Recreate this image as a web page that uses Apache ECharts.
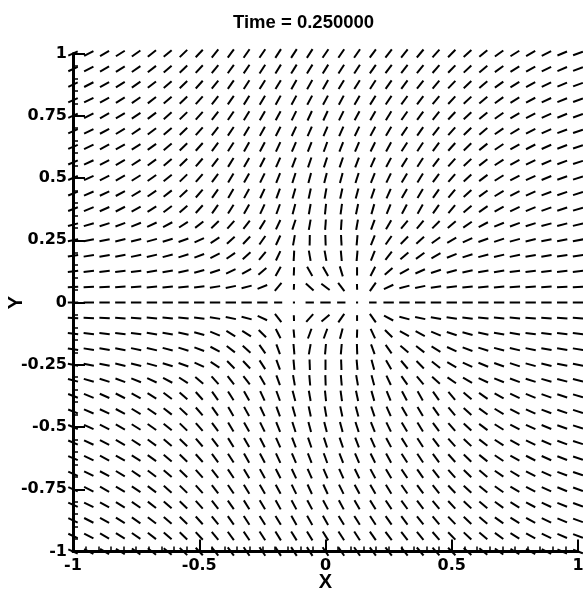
<!DOCTYPE html>
<html>
<head>
<meta charset="utf-8">
<script src="https://cdn.jsdelivr.net/npm/echarts@6/dist/echarts.min.js"></script>
<style>html,body{margin:0;padding:0;background:#fff;}#c{width:583px;height:599px;}</style>
</head>
<body>
<div id="c"></div>
<script>
// grid coordinates
const xValues = [-1,-0.9375,-0.875,-0.8125,-0.75,-0.6875,-0.625,-0.5625,-0.5,-0.4375,-0.375,-0.3125,-0.25,-0.1875,-0.125,-0.0625,0,0.0625,0.125,0.1875,0.25,0.3125,0.375,0.4375,0.5,0.5625,0.625,0.6875,0.75,0.8125,0.875,0.9375,1];
const yValues = [1,0.9375,0.875,0.8125,0.75,0.6875,0.625,0.5625,0.5,0.4375,0.375,0.3125,0.25,0.1875,0.125,0.0625,0,-0.0625,-0.125,-0.1875,-0.25,-0.3125,-0.375,-0.4375,-0.5,-0.5625,-0.625,-0.6875,-0.75,-0.8125,-0.875,-0.9375,-1];
// direction (degrees, counter-clockwise from +x) of each segment, one row per y value (top to bottom)
const angleRows = [
[25,27,30,32,35,38,40,44,47,51,54, 55,56,57,57,57,56,56,55,54,52,51, 50,48,45,42,40,36,32,29,26,23,20],
[25,27,30,32,35,38,41,44,47,51,54, 56,57,58,58,58,58,57,57,55,53,52, 51,49,46,43,40,36,32,29,26,23,20],
[25,27,29,32,35,38,41,44,48,51,55, 57,58,59,60,60,60,59,58,57,55,53, 52,50,46,43,40,36,32,29,26,23,20],
[24,26,29,32,35,38,41,44,48,52,55, 58,59,61,62,62,62,62,60,58,56,54, 53,50,47,43,40,36,32,28,25,22,20],
[24,26,29,31,34,37,41,44,48,52,56, 58,60,62,64,65,65,64,62,60,58,55, 54,51,47,43,40,35,31,28,25,22,20],
[24,26,28,31,34,37,40,44,48,52,56, 59,61,63,65,66,67,66,64,62,59,56, 55,52,48,44,40,35,31,27,24,21,19],
[23,25,28,30,33,36,40,44,48,53,57, 60,62,65,67,69,70,69,67,64,61,57, 56,53,48,44,39,34,30,27,24,21,19],
[23,25,27,30,33,36,40,44,49,53,58, 60,63,66,69,71,72,71,69,66,62,58, 57,53,48,43,38,33,29,26,23,20,18],
[22,24,26,29,32,35,39,44,49,54,59, 61,64,68,72,75,76,75,72,68,64,59, 58,54,49,43,37,32,28,25,22,19,18],
[22,23,25,28,31,34,38,43,49,55,60, 61,65,70,74,78,80,78,75,71,66,60, 59,55,50,42,36,31,27,24,21,19,17],
[21,22,24,27,30,33,37,42,48,55,58, 60,65,70,75,80,84,82,78,74,68,62, 60,55,50,40,35,30,25,22,20,18,17],
[15,16,18,20,22,25,28,33,38,44,48, 52,58,65,72,80,86,86,80,70,60,50, 50,45,40,35,28,22,20,18,15,15,13],
[10,11,12,13,14,15,17,20,25,33,42, 47,55,65,80,89,92,93,85,68,55,45, 42,36,30,25,20,18,15,13,12,12,10],
[8,9,10,11,12,13,15,17,21,27,35, 42,50,65,87,100,100,95,85,68,52,40, 36,30,22,18,15,13,12,10,10,8,8],
[6,6,7,7,8,9,10,12,15,19,25, 30,40,60,88,120,120,107,90,63,42,30, 24,18,15,12,10,10,8,8,7,6,6],
[3,3,3,4,4,5,5,6,7,9,12, 15,22,50,88,138,143,127,92,55,25,15, 12,8,7,6,5,5,4,4,4,3,3],
[0,0,0,0,0,0,0,0,0,0,0, 0,0,0,0,0,0,0,0,0,0,0, 0,0,0,0,0,0,0,0,0,0,0],
[-3,-3,-3,-4,-4,-5,-5,-6,-7,-9,-12, -15,-25,-52,-88,48,40,55,90,-55,-28,-15, -12,-10,-8,-7,-6,-5,-5,-4,-4,-4,-4],
[-6,-6,-7,-7,-8,-9,-10,-12,-15,-22,-32, -33,-45,-63,-85,70,70,75,88,-65,-45,-30, -28,-22,-18,-15,-12,-10,-10,-8,-8,-7,-6],
[-8,-9,-10,-11,-12,-13,-15,-17,-21,-28,-38, -42,-55,-70,-85,80,85,85,-88,-70,-55,-40, -38,-32,-25,-20,-18,-15,-13,-12,-10,-10,-9],
[-10,-11,-12,-13,-14,-15,-17,-20,-25,-33,-45, -47,-57,-70,-85,-88,90,-88,-85,-75,-60,-50, -45,-38,-30,-25,-22,-20,-18,-15,-13,-12,-12],
[-15,-16,-18,-20,-22,-25,-28,-33,-40,-48,-52, -52,-60,-70,-80,-85,-88,-85,-80,-75,-65,-55, -50,-42,-35,-30,-25,-22,-20,-18,-16,-15,-14],
[-21,-22,-24,-27,-30,-33,-37,-42,-48,-55,-58, -60,-65,-70,-75,-80,-84,-82,-78,-74,-68,-62, -60,-55,-50,-40,-35,-30,-25,-22,-20,-18,-17],
[-22,-23,-25,-28,-31,-34,-38,-43,-49,-55,-60, -61,-65,-70,-74,-78,-80,-78,-75,-71,-66,-60, -59,-55,-50,-42,-36,-31,-27,-24,-21,-19,-17],
[-22,-24,-26,-29,-32,-35,-39,-44,-49,-54,-59, -61,-64,-68,-72,-75,-76,-75,-72,-68,-64,-59, -58,-54,-49,-43,-37,-32,-28,-25,-22,-19,-18],
[-23,-25,-27,-30,-33,-36,-40,-44,-49,-53,-58, -60,-63,-66,-69,-71,-72,-71,-69,-66,-62,-58, -57,-53,-48,-43,-38,-33,-29,-26,-23,-20,-18],
[-23,-25,-28,-30,-33,-36,-40,-44,-48,-53,-57, -60,-62,-65,-67,-69,-70,-69,-67,-64,-61,-57, -56,-53,-48,-44,-39,-34,-30,-27,-24,-21,-19],
[-24,-26,-28,-31,-34,-37,-40,-44,-48,-52,-56, -59,-61,-63,-65,-66,-67,-66,-64,-62,-59,-56, -55,-52,-48,-44,-40,-35,-31,-27,-24,-21,-19],
[-24,-26,-29,-31,-34,-37,-41,-44,-48,-52,-56, -58,-60,-62,-64,-65,-65,-64,-62,-60,-58,-55, -54,-51,-47,-43,-40,-35,-31,-28,-25,-22,-20],
[-24,-26,-29,-32,-35,-38,-41,-44,-48,-52,-55, -58,-59,-61,-62,-62,-62,-62,-60,-58,-56,-54, -53,-50,-47,-43,-40,-36,-32,-28,-25,-22,-20],
[-25,-27,-29,-32,-35,-38,-41,-44,-48,-51,-55, -57,-58,-59,-60,-60,-60,-59,-58,-57,-55,-53, -52,-50,-46,-43,-40,-36,-32,-29,-26,-23,-20],
[-25,-27,-30,-32,-35,-38,-41,-44,-47,-51,-54, -56,-57,-58,-58,-58,-58,-57,-57,-55,-53,-52, -51,-49,-46,-43,-40,-36,-32,-29,-26,-23,-20],
[-25,-27,-30,-32,-35,-38,-40,-44,-47,-51,-54, -55,-56,-57,-57,-57,-56,-56,-55,-54,-52,-51, -50,-48,-45,-42,-40,-36,-32,-29,-26,-23,-20]
];
// segments near the two singular points that are drawn shorter: [x, y, relative length]
const shortVectors = [
[-0.125,0,0.2],[0.125,0,0.2],
[-0.125,0.0625,0.55],[0.125,0.0625,0.55],[-0.125,-0.0625,0.55],[0.125,-0.0625,0.55],
[-0.0625,0,0.8],[0.0625,0,0.8],[-0.1875,0,0.78],[0.1875,0,0.72],
[-0.125,0.125,0.8],[0.125,0.125,0.8],[-0.125,-0.125,0.8],[0.125,-0.125,0.8]
];
const xTicks = [-1,-0.5,0,0.5,1];
const yTicks = [-1,-0.75,-0.5,-0.25,0,0.25,0.5,0.75,1];

const data = [];
yValues.forEach((y, r) => {
  xValues.forEach((x, c) => {
    let m = 1;
    shortVectors.forEach(s => { if (s[0] === x && s[1] === y) m = s[2]; });
    data.push([x, y, angleRows[r][c], m]);
  });
});

const HALF = 5.2;
const chart = echarts.init(document.getElementById('c'), null, {renderer: 'canvas'});
const labelFont = {color: '#000', fontFamily: 'DejaVu Sans', fontWeight: 'bold', fontSize: 16};
chart.setOption({
  animation: false,
  backgroundColor: '#fff',
  title: {
    text: 'Time = 0.250000',
    left: 228, top: 8,
    textStyle: {fontFamily: 'Liberation Sans', fontWeight: 'bold', fontSize: 18.5, color: '#000'}
  },
  grid: {left: 73, right: 5, top: 53.5, bottom: 47.5, containLabel: false, outerBoundsMode: 'none'},
  xAxis: {
    type: 'value', min: -1, max: 1, interval: 0.5,
    name: 'X', nameLocation: 'middle', nameGap: 21, nameMoveOverlap: false,
    nameTextStyle: {fontFamily: 'Liberation Sans', fontWeight: 'bold', fontSize: 20, color: '#000'},
    axisLine: {show: true, onZero: false, lineStyle: {color: '#000', width: 3}},
    axisTick: {show: true, inside: true, length: 12, lineStyle: {color: '#000', width: 2}},
    minorTick: {show: true, splitNumber: 10, length: 5, lineStyle: {color: '#000', width: 1.5}},
    splitLine: {show: false},
    axisLabel: Object.assign({margin: 6, formatter: v => xTicks.indexOf(v) >= 0 ? String(v) : ''}, labelFont)
  },
  yAxis: {
    type: 'value', min: -1, max: 1, interval: 0.25,
    name: 'Y', nameLocation: 'middle', nameGap: 47, nameRotate: 90, nameMoveOverlap: false,
    nameTextStyle: {fontFamily: 'Liberation Sans', fontWeight: 'bold', fontSize: 20, color: '#000'},
    axisLine: {show: true, onZero: false, lineStyle: {color: '#000', width: 3}},
    axisTick: {show: true, inside: true, length: 12, lineStyle: {color: '#000', width: 2}},
    minorTick: {show: true, splitNumber: 5, length: 5, lineStyle: {color: '#000', width: 1.5}},
    splitLine: {show: false},
    axisLabel: Object.assign({margin: 6, formatter: v => yTicks.indexOf(v) >= 0 ? String(v) : ''}, labelFont)
  },
  series: [{
    type: 'custom',
    clip: false,
    data: data,
    encode: {x: 0, y: 1},
    renderItem: function (params, api) {
      const c = api.coord([api.value(0), api.value(1)]);
      const a = api.value(2) * Math.PI / 180;
      const L = HALF * api.value(3);
      const dx = Math.cos(a) * L, dy = -Math.sin(a) * L;
      return {
        type: 'line',
        shape: {x1: c[0] - dx, y1: c[1] - dy, x2: c[0] + dx, y2: c[1] + dy},
        style: {stroke: '#000', lineWidth: 2, lineCap: 'butt'}
      };
    }
  }]
});
</script>
</body>
</html>
